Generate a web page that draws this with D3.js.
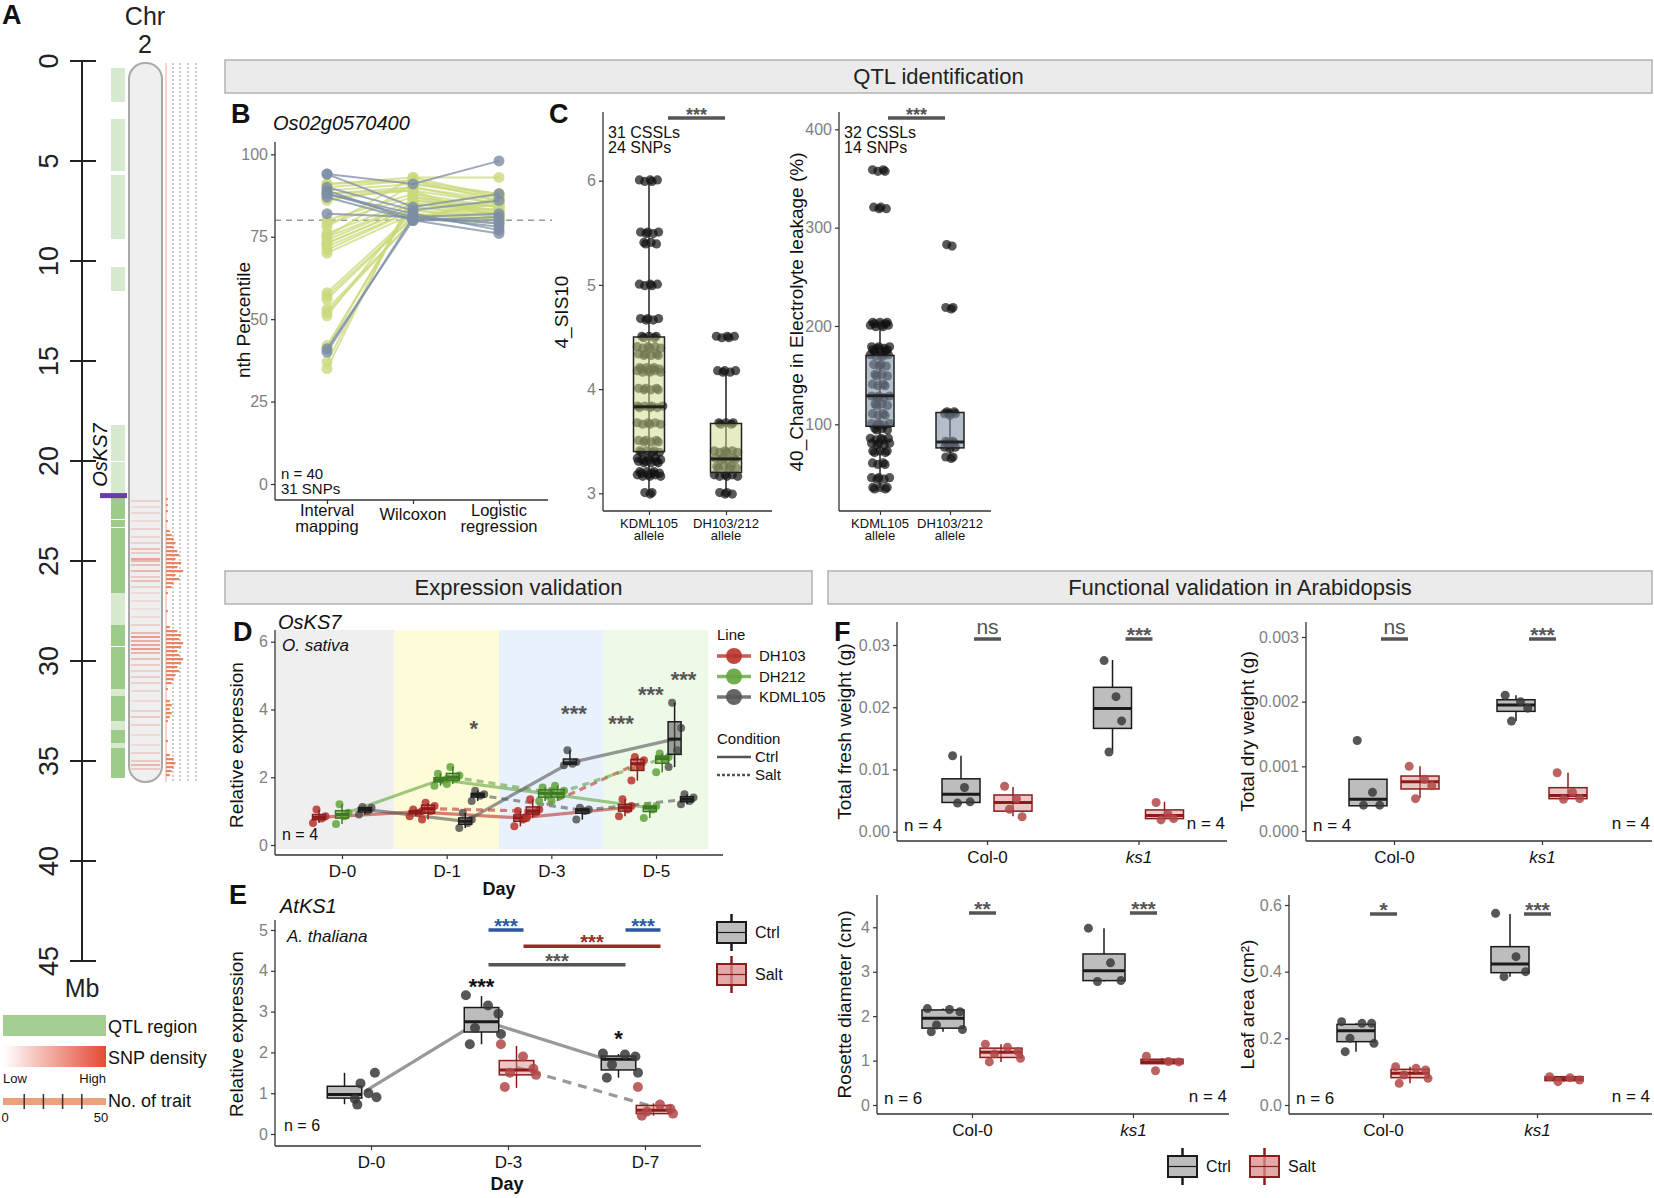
<!DOCTYPE html>
<html>
<head>
<meta charset="utf-8">
<script src="https://cdn.jsdelivr.net/npm/d3@7"></script>
<style>
  body { margin: 0; background: #fff; }
  svg { font-family: "Liberation Sans", Arial, sans-serif; }
  .axis .tick line { stroke: #333; stroke-width: 1.2px; }
  .axis .tick text { fill: #7f7f7f; font-size: 16px; }
  .xaxis .tick text { fill: #111; font-size: 17px; }
  .strip rect { fill: #ebebeb; stroke: #b3b3b3; stroke-width: 1.5px; }
  .strip text { font-size: 22px; fill: #222; text-anchor: middle; }
</style>
</head>
<body>
<svg width="1654" height="1198"></svg>
<script>
// ---------------- data ----------------
// A: chromosome 2
const chrTicks = [0, 5, 10, 15, 20, 25, 30, 35, 40, 45];
const chrLength = 36.05;
const qtlSegments = [
  [0.35, 2.05, 1], [2.9, 5.5, 1], [5.7, 8.9, 1], [10.3, 11.5, 1],
  [18.2, 20.0, 1], [20.05, 21.6, 1],
  [21.75, 22.9, 2], [22.95, 23.3, 2], [23.35, 26.6, 2], [26.6, 28.2, 1],
  [28.2, 29.25, 2], [29.3, 31.4, 2], [31.4, 31.75, 1], [31.75, 33.0, 2],
  [33.0, 33.45, 1], [33.45, 34.1, 2], [34.1, 34.35, 1], [34.35, 35.85, 2]
];
const snpDensity = [
  [22.0, .3], [22.3, .2], [22.6, .25], [23.0, .2], [23.4, .3], [23.8, .25], [24.1, .3],
  [24.4, .5], [24.6, .4], [24.9, .8], [25.0, .6], [25.2, .5], [25.5, .6], [25.8, .4],
  [26.0, .5], [26.3, .3], [26.6, .2], [27.0, .2], [27.4, .15], [27.8, .2], [28.2, .3],
  [28.6, .6], [28.8, .9], [29.0, .7], [29.2, .8], [29.4, .9], [29.6, .6], [29.9, .5],
  [30.2, .4], [30.5, .3], [30.8, .35], [31.1, .3], [31.5, .25], [32.0, .2], [32.5, .3],
  [32.8, .4], [33.2, .3], [33.7, .2], [34.2, .2], [34.6, .3], [35.0, .4], [35.2, .6], [35.4, .4]
];
const traitCounts = [
  [21.9, 1], [22.2, 1], [22.5, 1], [23.0, 1], [23.5, 2], [23.7, 3], [23.9, 4], [24.1, 5],
  [24.3, 4], [24.5, 6], [24.7, 7], [24.9, 5], [25.1, 8], [25.3, 6], [25.5, 9], [25.7, 5],
  [25.9, 7], [26.1, 4], [26.3, 3], [26.6, 1], [27.5, 1], [28.3, 2], [28.5, 6], [28.7, 8],
  [28.9, 7], [29.1, 9], [29.3, 8], [29.5, 6], [29.7, 7], [29.9, 9], [30.1, 8], [30.3, 6],
  [30.5, 7], [30.7, 5], [30.9, 4], [31.1, 3], [31.4, 1], [32.0, 2], [32.2, 3], [32.4, 2],
  [32.6, 3], [32.8, 2], [33.0, 1], [34.0, 1], [34.7, 2], [34.9, 4], [35.1, 5], [35.3, 4],
  [35.5, 3], [35.7, 2]
];
const osks7Mb = 21.73;

// B: percentile ranks of SNPs by method
const methods = ["Interval mapping", "Wilcoxon", "Logistic regression"];
const grayIM = [94, 94, 90, 89, 88, 88, 87, 82, 41, 40];
const grayWX = [91, 84, 83, 80, 82, 81, 80, 81, 80, 81];
const grayLR = [98, 88, 86, 80, 77, 79, 76, 82, 81, 78];
const greenIM = [91, 90, 89, 88, 87, 80, 79, 76, 75, 74, 73, 73, 72, 71, 70, 58, 57, 56, 53, 52, 51, 42, 41, 37, 35, 88, 86, 91, 78, 75];
const greenWX = [93, 92, 91, 90, 89, 88, 87, 86, 85, 85, 84, 84, 83, 83, 82, 82, 81, 81, 80, 80, 84, 85, 86, 87, 88, 89, 90, 92, 93, 91];
const greenLR = [93, 88, 87, 86, 85, 84, 84, 83, 83, 82, 82, 81, 81, 80, 80, 79, 79, 85, 86, 87, 88, 83, 84, 82, 81, 80, 85, 86, 87, 88];

// C: allele effect
const alleles = ["KDML105", "DH103/212"];
const sisLevelsK = [6, 5.5, 5.4, 5, 4.67, 4.5, 4.4, 4.33, 4.2, 4.17, 4, 3.83, 3.67, 3.5, 3.4, 3.33, 3.3, 3.2, 3.17, 3];
const sisCountsK = [5, 5, 4, 5, 5, 5, 6, 6, 6, 6, 6, 7, 6, 6, 6, 6, 6, 6, 6, 3];
const sisLevelsD = [4.5, 4.17, 3.67, 3.4, 3.33, 3.25, 3.17, 3.0];
const sisCountsD = [5, 5, 5, 6, 6, 6, 6, 4];
const sisBoxes = [
  { q1: 3.4, med: 3.83, q3: 4.5, lo: 3.0, hi: 6.0 },
  { q1: 3.2, med: 3.33, q3: 3.67, lo: 3.0, hi: 4.17 }
];
const elLevelsK = [358, 320, 203, 200, 178, 175, 170, 160, 150, 140, 128, 120, 110, 100, 95, 85, 80, 72, 60, 45, 35];
const elCountsK = [4, 4, 5, 5, 5, 5, 5, 4, 4, 4, 5, 4, 4, 5, 4, 5, 5, 5, 4, 5, 5];
const elLevelsD = [282, 218, 112, 110, 82, 80, 76, 66];
const elCountsD = [2, 3, 3, 3, 3, 3, 3, 3];
const elBoxes = [
  { q1: 98, med: 129, q3: 170, lo: 35, hi: 203 },
  { q1: 76, med: 82, q3: 112, lo: 66, hi: 112 }
];

// D: OsKS7 expression
const days = ["D-0", "D-1", "D-3", "D-5"];
const lines = ["DH103", "DH212", "KDML105"];
const conds = ["Ctrl", "Salt"];
const dBoxes = [
  { day: "D-0", line: "DH103", cond: "Ctrl", pts: [0.65, 0.78, 0.85, 1.05] },
  { day: "D-0", line: "DH212", cond: "Ctrl", pts: [0.62, 0.85, 0.95, 1.2] },
  { day: "D-0", line: "KDML105", cond: "Ctrl", pts: [0.9, 1.0, 1.1, 1.12] },
  { day: "D-1", line: "DH103", cond: "Ctrl", pts: [0.85, 0.95, 1.0, 1.05] },
  { day: "D-1", line: "DH103", cond: "Salt", pts: [0.75, 1.0, 1.15, 1.25] },
  { day: "D-1", line: "DH212", cond: "Ctrl", pts: [1.75, 1.9, 1.95, 2.1] },
  { day: "D-1", line: "DH212", cond: "Salt", pts: [1.8, 1.95, 2.05, 2.3] },
  { day: "D-1", line: "KDML105", cond: "Ctrl", pts: [0.5, 0.65, 0.75, 0.95] },
  { day: "D-1", line: "KDML105", cond: "Salt", pts: [1.3, 1.45, 1.5, 1.6] },
  { day: "D-3", line: "DH103", cond: "Ctrl", pts: [0.55, 0.75, 0.85, 1.0] },
  { day: "D-3", line: "DH103", cond: "Salt", pts: [0.8, 0.95, 1.05, 1.35] },
  { day: "D-3", line: "DH212", cond: "Ctrl", pts: [1.3, 1.45, 1.6, 1.7] },
  { day: "D-3", line: "DH212", cond: "Salt", pts: [1.3, 1.45, 1.6, 1.75] },
  { day: "D-3", line: "KDML105", cond: "Ctrl", pts: [2.35, 2.4, 2.45, 2.8] },
  { day: "D-3", line: "KDML105", cond: "Salt", pts: [0.75, 1.0, 1.05, 1.1] },
  { day: "D-5", line: "DH103", cond: "Ctrl", pts: [0.85, 1.05, 1.15, 1.35] },
  { day: "D-5", line: "DH103", cond: "Salt", pts: [1.9, 2.3, 2.5, 2.6] },
  { day: "D-5", line: "DH212", cond: "Ctrl", pts: [0.8, 1.05, 1.15, 1.15] },
  { day: "D-5", line: "DH212", cond: "Salt", pts: [2.15, 2.5, 2.6, 2.7] },
  { day: "D-5", line: "KDML105", cond: "Ctrl", pts: [2.3, 2.8, 3.45, 4.2] },
  { day: "D-5", line: "KDML105", cond: "Salt", pts: [1.2, 1.3, 1.4, 1.5] }
];
const dStars = [["D-1", "KDML105", "Salt", 3.45, "*"], ["D-3", "KDML105", "Ctrl", 3.9, "***"],
  ["D-5", "DH103", "Ctrl", 3.6, "***"], ["D-5", "DH212", "Ctrl", 4.45, "***"], ["D-5", "KDML105", "Ctrl", 4.9, "***"]];

// E: AtKS1 expression
const eDays = ["D-0", "D-3", "D-7"];
const eBoxes = [
  { day: "D-0", cond: "Ctrl", q1: 0.88, med: 0.97, q3: 1.17, lo: 0.73, hi: 1.5, pts: [0.86, 1.0, 1.5, 1.24, 0.9, 0.72] },
  { day: "D-3", cond: "Ctrl", q1: 2.5, med: 2.75, q3: 3.1, lo: 2.2, hi: 3.38, pts: [3.4, 3.15, 2.95, 2.6, 2.45, 2.2] },
  { day: "D-3", cond: "Salt", q1: 1.45, med: 1.57, q3: 1.8, lo: 1.13, hi: 2.16, pts: [2.2, 1.9, 1.6, 1.5, 1.45, 1.15] },
  { day: "D-7", cond: "Ctrl", q1: 1.57, med: 1.83, q3: 1.91, lo: 1.38, hi: 1.96, pts: [1.97, 1.95, 1.9, 1.7, 1.5, 1.38] },
  { day: "D-7", cond: "Salt", q1: 0.5, med: 0.58, q3: 0.7, lo: 0.45, hi: 0.75, pts: [1.15, 0.72, 0.62, 0.55, 0.5, 0.45] }
];
// [from, condFrom, to, condTo, value, colour]
const eBrackets = [["D-3", "Ctrl", "D-3", "Salt", 5.0, "#2b57a0"], ["D-7", "Ctrl", "D-7", "Salt", 5.0, "#2b57a0"],
  ["D-3", "Salt", "D-7", "Salt", 4.6, "#9b2a24"], ["D-3", "Ctrl", "D-7", "Ctrl", 4.15, "#555555"]];
const eStars = [["D-3", "Ctrl", 3.62, "***"], ["D-7", "Ctrl", 2.35, "*"]];

// F: Arabidopsis phenotypes
const genotypes = ["Col-0", "ks1"];
const freshWeight = [
  { g: "Col-0", cond: "Ctrl", q1: 0.0047, med: 0.006, q3: 0.0085, lo: 0.0045, hi: 0.0122, pts: [0.0122, 0.0071, 0.0048, 0.0046] },
  { g: "Col-0", cond: "Salt", q1: 0.0033, med: 0.0047, q3: 0.0059, lo: 0.0025, hi: 0.0072, pts: [0.0073, 0.0053, 0.0024, 0.0036] },
  { g: "ks1", cond: "Ctrl", q1: 0.0166, med: 0.0198, q3: 0.0232, lo: 0.013, hi: 0.0276, pts: [0.0275, 0.0217, 0.0178, 0.0128] },
  { g: "ks1", cond: "Salt", q1: 0.0021, med: 0.0026, q3: 0.0035, lo: 0.002, hi: 0.0048, pts: [0.0047, 0.0028, 0.0021, 0.0019] }
];
const dryWeight = [
  { g: "Col-0", cond: "Ctrl", q1: 0.00039, med: 0.00049, q3: 0.0008, lo: 0.00039, hi: 0.0008, pts: [0.0014, 0.0006, 0.0004, 0.0004] },
  { g: "Col-0", cond: "Salt", q1: 0.00065, med: 0.00076, q3: 0.00085, lo: 0.00051, hi: 0.001, pts: [0.001, 0.0008, 0.0007, 0.0005] },
  { g: "ks1", cond: "Ctrl", q1: 0.00185, med: 0.00195, q3: 0.00203, lo: 0.0017, hi: 0.0021, pts: [0.0021, 0.002, 0.0019, 0.0017] },
  { g: "ks1", cond: "Salt", q1: 0.0005, med: 0.00055, q3: 0.00067, lo: 0.00049, hi: 0.0009, pts: [0.0009, 0.0006, 0.0005, 0.00049] }
];
const rosette = [
  { g: "Col-0", cond: "Ctrl", q1: 1.73, med: 1.95, q3: 2.14, lo: 1.65, hi: 2.17, pts: [2.17, 2.15, 2.1, 1.8, 1.7, 1.65] },
  { g: "Col-0", cond: "Salt", q1: 1.07, med: 1.19, q3: 1.28, lo: 0.97, hi: 1.37, pts: [1.37, 1.3, 1.2, 1.15, 1.05, 0.97] },
  { g: "ks1", cond: "Ctrl", q1: 2.8, med: 3.02, q3: 3.4, lo: 2.78, hi: 3.98, pts: [3.98, 3.2, 2.8, 2.78] },
  { g: "ks1", cond: "Salt", q1: 0.93, med: 0.975, q3: 1.03, lo: 0.92, hi: 1.05, pts: [1.1, 0.98, 0.97, 0.77] }
];
const leafArea = [
  { g: "Col-0", cond: "Ctrl", q1: 0.19, med: 0.223, q3: 0.242, lo: 0.16, hi: 0.245, pts: [0.25, 0.245, 0.245, 0.2, 0.185, 0.16] },
  { g: "Col-0", cond: "Salt", q1: 0.082, med: 0.095, q3: 0.107, lo: 0.065, hi: 0.115, pts: [0.115, 0.11, 0.105, 0.09, 0.08, 0.065] },
  { g: "ks1", cond: "Ctrl", q1: 0.397, med: 0.423, q3: 0.475, lo: 0.385, hi: 0.573, pts: [0.575, 0.445, 0.4, 0.385] },
  { g: "ks1", cond: "Salt", q1: 0.073, med: 0.079, q3: 0.085, lo: 0.07, hi: 0.085, pts: [0.085, 0.082, 0.075, 0.07] }
];
const freshSig = ["ns", "***"], drySig = ["ns", "***"], rosetteSig = ["**", "***"], leafSig = ["*", "***"];

// ---------------- helpers ----------------
const svg = d3.select("svg");
const lineColor = { DH103: "#b8332b", DH212: "#63a33d", KDML105: "#555555" };
const lineStroke = { DH103: "#8b1c1c", DH212: "#3d7a23", KDML105: "#1e1e1e" };
const ctrlStyle = { fill: "#bdbdbd", fo: 1, stroke: "#1a1a1a", pt: "#3a3a3a" };
const saltStyle = { fill: "#d98c8c", fo: 0.5, stroke: "#8b1c1c", pt: "#b04848" };
const jitter = [-12, 5, 13, -5, 15, -9, 2];
const dStarNudge = [-4, 4, -4, 1, 9];

function txt(g, x, y, s, o = {}) {
  const t = g.append("text").attr("x", x).attr("y", y).text(s)
    .attr("font-size", o.size || 16).attr("fill", o.fill || "#111");
  if (o.anchor) t.attr("text-anchor", o.anchor);
  if (o.italic) t.attr("font-style", "italic");
  if (o.bold) t.attr("font-weight", "bold");
  if (o.rotate) t.attr("transform", `rotate(-90,${x},${y})`);
  return t;
}

// two-line label as a single text element
function txt2(g, x, y, l1, l2, size, gap) {
  const t = g.append("text").attr("x", x).attr("y", y).attr("font-size", size)
    .attr("fill", "#111").attr("text-anchor", "middle");
  t.append("tspan").attr("x", x).text(l1);
  t.append("tspan").attr("x", x).attr("dy", gap).text(l2);
}

function strip(x0, x1, y0, y1, label) {
  const g = svg.append("g").attr("class", "strip");
  g.append("rect").attr("x", x0).attr("y", y0).attr("width", x1 - x0).attr("height", y1 - y0);
  g.append("text").attr("x", (x0 + x1) / 2).attr("y", y1 - 9).text(label);
}

function yAxis(x, y, ticks, fmt, top, bottom) {
  const a = svg.append("g").attr("class", "axis").attr("transform", `translate(${x},0)`)
    .call(d3.axisLeft(y).tickValues(ticks).tickFormat(fmt).tickSize(4).tickPadding(3));
  a.select(".domain").remove();
  svg.append("line").attr("x1", x).attr("x2", x).attr("y1", top).attr("y2", bottom)
    .attr("stroke", "#333").attr("stroke-width", 1.3);
}

function xAxis(yPos, x, x0, x1, labelFn) {
  const a = svg.append("g").attr("class", "axis xaxis").attr("transform", `translate(0,${yPos})`)
    .call(d3.axisBottom(x).tickSize(4).tickPadding(6));
  a.select(".domain").remove();
  if (labelFn) a.selectAll(".tick text").each(labelFn);
  svg.append("line").attr("x1", x0).attr("x2", x1).attr("y1", yPos).attr("y2", yPos)
    .attr("stroke", "#333").attr("stroke-width", 1.3);
  return a;
}
const dropLabel = function () { d3.select(this).remove(); };

function drawBox(g, cx, y, s, w, st) {
  g.append("line").attr("x1", cx).attr("x2", cx).attr("y1", y(s.hi)).attr("y2", y(s.lo))
    .attr("stroke", st.stroke).attr("stroke-width", 1.5);
  g.append("rect").attr("x", cx - w / 2).attr("y", y(s.q3)).attr("width", w)
    .attr("height", Math.max(1, y(s.q1) - y(s.q3)))
    .attr("fill", st.fill).attr("fill-opacity", st.fo)
    .attr("stroke", st.stroke).attr("stroke-width", 1.5);
  g.append("line").attr("x1", cx - w / 2).attr("x2", cx + w / 2).attr("y1", y(s.med)).attr("y2", y(s.med))
    .attr("stroke", st.stroke).attr("stroke-width", 3);
}

function sigBar(g, x0, x1, yPos, label, color, size) {
  g.append("line").attr("x1", x0).attr("x2", x1).attr("y1", yPos).attr("y2", yPos)
    .attr("stroke", color).attr("stroke-width", 3.5);
  const star = label.indexOf("*") >= 0;
  txt(g, (x0 + x1) / 2, star ? yPos + 3 : yPos - 5, label,
    { size: size || 21, anchor: "middle", fill: color, bold: star });
}

function legendKey(g, x, y, w, h, st) {
  g.append("line").attr("x1", x + w / 2).attr("x2", x + w / 2).attr("y1", y - 8).attr("y2", y + h + 8)
    .attr("stroke", st.stroke).attr("stroke-width", 2.5);
  g.append("rect").attr("x", x).attr("y", y).attr("width", w).attr("height", h)
    .attr("fill", st.fill).attr("fill-opacity", st.fo === 1 ? 1 : 0.75).attr("stroke", st.stroke).attr("stroke-width", 2);
  g.append("line").attr("x1", x).attr("x2", x + w).attr("y1", y + h / 2).attr("y2", y + h / 2)
    .attr("stroke", st.stroke).attr("stroke-width", 1.2);
}

// ---------------- strips ----------------
strip(225, 1652, 60, 93, "QTL identification");
strip(225, 812, 571, 604, "Expression validation");
strip(828, 1652, 571, 604, "Functional validation in Arabidopsis");

// ---------------- panel A ----------------
const aG = svg.append("g");
const mb = d3.scaleLinear().domain([0, 45]).range([61, 961]);
txt(aG, 2, 24, "A", { size: 27, bold: true });
txt(aG, 145, 25, "Chr", { size: 25, anchor: "middle", fill: "#222" });
txt(aG, 145, 53, "2", { size: 25, anchor: "middle", fill: "#222" });
aG.append("line").attr("x1", 82).attr("x2", 82).attr("y1", mb(0)).attr("y2", mb(45))
  .attr("stroke", "#222").attr("stroke-width", 2);
chrTicks.forEach(t => {
  aG.append("line").attr("x1", 70).attr("x2", 96).attr("y1", mb(t)).attr("y2", mb(t))
    .attr("stroke", "#222").attr("stroke-width", 2);
  txt(aG, 58, mb(t), t, { size: 27, anchor: "middle", rotate: true, fill: "#222" });
});
txt(aG, 82, 997, "Mb", { size: 25, anchor: "middle", fill: "#222" });
qtlSegments.forEach(s => {
  aG.append("rect").attr("x", 111).attr("y", mb(s[0])).attr("width", 14)
    .attr("height", mb(s[1]) - mb(s[0])).attr("fill", s[2] === 2 ? "#9ccb8a" : "#d7ead0");
});
aG.append("rect").attr("x", 129).attr("y", mb(0.1)).attr("width", 33).attr("height", mb(chrLength) - mb(0.1))
  .attr("rx", 16).attr("fill", "#efefef").attr("stroke", "#a9a9a9").attr("stroke-width", 2);
snpDensity.forEach(s => {
  aG.append("line").attr("x1", 131).attr("x2", 160).attr("y1", mb(s[0])).attr("y2", mb(s[0]))
    .attr("stroke", "#e0503f").attr("stroke-opacity", s[1] * 0.75).attr("stroke-width", 1.6);
});
aG.append("line").attr("x1", 166).attr("x2", 166).attr("y1", mb(0.1)).attr("y2", mb(chrLength))
  .attr("stroke", "#f0a990").attr("stroke-width", 1);
const traitX = d3.scaleLinear().domain([0, 50]).range([166, 261]);
traitCounts.forEach(t => {
  aG.append("rect").attr("x", 166).attr("y", mb(t[0]) - 1).attr("width", traitX(t[1]) - 166).attr("height", 2.2)
    .attr("fill", "#e8875a");
});
[173, 180, 188, 196].forEach(x => {
  aG.append("line").attr("x1", x).attr("x2", x).attr("y1", mb(0.1)).attr("y2", mb(chrLength))
    .attr("stroke", "#999").attr("stroke-width", 1).attr("stroke-dasharray", "2,2");
});
aG.append("rect").attr("x", 100).attr("y", mb(osks7Mb) - 2.5).attr("width", 27).attr("height", 5).attr("fill", "#6a3fa5");
txt(aG, 107, 455, "OsKS7", { size: 20, anchor: "middle", rotate: true, italic: true });
// legend
const grad = svg.append("defs").append("linearGradient").attr("id", "snpgrad");
grad.append("stop").attr("offset", "0%").attr("stop-color", "#fff");
grad.append("stop").attr("offset", "100%").attr("stop-color", "#e34a33");
aG.append("rect").attr("x", 3).attr("y", 1015).attr("width", 103).attr("height", 21).attr("fill", "#a5cf92");
txt(aG, 108, 1033, "QTL region", { size: 18 });
aG.append("rect").attr("x", 3).attr("y", 1046).attr("width", 103).attr("height", 21).attr("fill", "url(#snpgrad)");
txt(aG, 108, 1064, "SNP density", { size: 18 });
txt(aG, 3, 1083, "Low", { size: 13 });
txt(aG, 106, 1083, "High", { size: 13, anchor: "end" });
const legTrait = d3.scaleLinear().domain([0, 50]).range([5, 101]);
aG.append("rect").attr("x", 3).attr("y", 1098).attr("width", 103).attr("height", 7).attr("fill", "#eca17c");
[10, 20, 30, 40].forEach(v => aG.append("line").attr("x1", legTrait(v)).attr("x2", legTrait(v))
  .attr("y1", 1094).attr("y2", 1109).attr("stroke", "#333").attr("stroke-width", 1.5));
txt(aG, 108, 1107, "No. of trait", { size: 18 });
txt(aG, legTrait(0), 1122, "0", { size: 13, anchor: "middle" });
txt(aG, legTrait(50), 1122, "50", { size: 13, anchor: "middle" });

// ---------------- panel B ----------------
const bG = svg.append("g");
const bY = d3.scaleLinear().domain([0, 100]).range([484, 154.3]);
const bX = d3.scalePoint().domain(methods).range([327, 499]);
txt(bG, 231, 123, "B", { size: 27, bold: true });
txt(bG, 273, 130, "Os02g0570400", { size: 20, italic: true });
yAxis(275, bY, [0, 25, 50, 75, 100], d3.format("d"), 142, 500);
xAxis(500, bX, 275, 548, dropLabel);
txt2(bG, bX(methods[0]), 516, "Interval", "mapping", 16.5, 16);
txt(bG, bX(methods[1]), 520, "Wilcoxon", { size: 16.5, anchor: "middle" });
txt2(bG, bX(methods[2]), 516, "Logistic", "regression", 16.5, 16);
txt(bG, 250, 320, "nth Percentile", { size: 19, anchor: "middle", rotate: true });
bG.append("line").attr("x1", 275).attr("x2", 552).attr("y1", bY(80)).attr("y2", bY(80))
  .attr("stroke", "#999").attr("stroke-width", 1.5).attr("stroke-dasharray", "6,5");
function bSeries(im, wx, lr, color) {
  im.forEach((v, i) => {
    const vals = [v, wx[i], lr[i]];
    bG.append("path").attr("d", d3.line()(vals.map((d, k) => [bX(methods[k]), bY(d)])))
      .attr("fill", "none").attr("stroke", color).attr("stroke-width", 2).attr("stroke-opacity", 0.75);
    vals.forEach((d, k) => bG.append("circle").attr("cx", bX(methods[k])).attr("cy", bY(d)).attr("r", 5.5)
      .attr("fill", color).attr("fill-opacity", 0.8));
  });
}
bSeries(greenIM, greenWX, greenLR, "#cbd97c");
bSeries(grayIM, grayWX, grayLR, "#7d8da6");
txt(bG, 281, 479, "n = 40", { size: 15 });
txt(bG, 281, 494, "31 SNPs", { size: 15 });

// ---------------- panel C ----------------
const cG = svg.append("g");
txt(cG, 549, 123, "C", { size: 27, bold: true });
function cPanel(axisX, xEnd, xr, y, ticks, levels, counts, boxes, boxFill, boxFo, boxW, yLabel, yLabelX, note, sigX) {
  const x = d3.scalePoint().domain(alleles).range(xr);
  yAxis(axisX, y, ticks, d3.format("d"), 112, 511);
  xAxis(511, x, axisX, xEnd, dropLabel);
  alleles.forEach(a => txt2(cG, x(a), 528, a, "allele", 13, 12));
  levels.forEach((lv, li) => {
    lv.forEach((v, i) => {
      const n = counts[li][i];
      for (let j = 0; j < n; j++) {
        const dx = (j - (n - 1) / 2) * 4.2 + ((i + j) % 3 - 1) * 1.2;
        cG.append("circle").attr("cx", x(alleles[li]) + dx).attr("cy", y(v) + ((j % 2) - 0.5) * 1.5)
          .attr("r", 4.6).attr("fill", "#111").attr("fill-opacity", 0.7);
      }
    });
  });
  boxes.forEach((b, i) => drawBox(cG, x(alleles[i]), y, b, boxW, { fill: boxFill, fo: boxFo, stroke: "#222" }));
  txt(cG, yLabelX, 312, yLabel, { size: 19, anchor: "middle", rotate: true });
  txt(cG, axisX + 5, 138, note[0], { size: 16 });
  txt(cG, axisX + 5, 153, note[1], { size: 16 });
  sigBar(cG, sigX[0], sigX[1], 118, "***", "#555", 18);
}
cPanel(603, 772, [649, 726], d3.scaleLinear().domain([3, 6]).range([493.3, 180.7]), [3, 4, 5, 6],
  [sisLevelsK, sisLevelsD], [sisCountsK, sisCountsD], sisBoxes, "#d2da8c", 0.5, 31, "4_SIS10", 568,
  ["31 CSSLs", "24 SNPs"], [668, 725]);
cPanel(839, 991, [880, 950], d3.scaleLinear().domain([100, 400]).range([424.3, 129.3]), [100, 200, 300, 400],
  [elLevelsK, elLevelsD], [elCountsK, elCountsD], elBoxes, "#7d8fa6", 0.58, 28, "40_Change in Electrolyte leakage (%)", 803,
  ["32 CSSLs", "14 SNPs"], [888, 945]);

// ---------------- panel D ----------------
const dG = svg.append("g");
const dX = d3.scalePoint().domain(days).range([342, 656]);
const dStep = dX.step();
const dY = d3.scaleLinear().domain([0, 6]).range([845, 641.7]);
const bandColors = ["#efefef", "#fefbd9", "#e8f1fc", "#eef9e7"];
days.forEach((d, i) => {
  const x0 = i === 0 ? 276 : dX(d) - dStep / 2;
  dG.append("rect").attr("x", x0).attr("y", 630).attr("width", dX(d) + dStep / 2 - x0).attr("height", 219)
    .attr("fill", bandColors[i]);
});
yAxis(275, dY, [0, 2, 4, 6], d3.format("d"), 630, 855);
xAxis(855, dX, 275, 723);
txt(dG, 499, 895, "Day", { size: 18, anchor: "middle", bold: true });
txt(dG, 243, 745, "Relative expression", { size: 19, anchor: "middle", rotate: true });
txt(dG, 233, 641, "D", { size: 27, bold: true });
txt(dG, 278, 629, "OsKS7", { size: 20, italic: true });
txt(dG, 282, 651, "O. sativa", { size: 17, italic: true });
txt(dG, 282, 840, "n = 4", { size: 16 });
function dPos(day, line, cond) {
  const li = lines.indexOf(line);
  if (day === "D-0") return dX(day) + (li - 1) * 23;
  return dX(day) + (li * 2 + conds.indexOf(cond) - 2.5) * 12.4;
}
dBoxes.forEach(b => {
  const s = b.pts.slice().sort(d3.ascending);
  b.q1 = d3.quantile(s, 0.25); b.med = d3.quantile(s, 0.5); b.q3 = d3.quantile(s, 0.75);
  b.lo = s[0]; b.hi = s[s.length - 1];
});
lines.forEach(l => conds.forEach(c => {
  const pts = days.map(d => dBoxes.find(b => b.day === d && b.line === l && (b.cond === c || (d === "D-0" && c === "Ctrl"))))
    .filter(Boolean);
  dG.append("path").attr("d", d3.line()(pts.map(b => [dPos(b.day, l, b.cond), dY(b.med)])))
    .attr("fill", "none").attr("stroke", lineColor[l]).attr("stroke-opacity", 0.6).attr("stroke-width", 3.2)
    .attr("stroke-dasharray", c === "Salt" ? "7,5" : null);
}));
dBoxes.forEach(b => {
  const cx = dPos(b.day, b.line, b.cond);
  b.pts.forEach((v, i) => dG.append("circle").attr("cx", cx + jitter[i] * 0.5).attr("cy", dY(v)).attr("r", 4)
    .attr("fill", lineColor[b.line]).attr("fill-opacity", 0.85));
  drawBox(dG, cx, dY, b, 13, { fill: lineColor[b.line], fo: 0.55, stroke: lineStroke[b.line] });
});
dStars.forEach((s, i) => txt(dG, dPos(s[0], s[1], s[2]) + dStarNudge[i], dY(s[3]) + 8, s[4],
  { size: 22, anchor: "middle", fill: "#555", bold: true }));
// D legend
const dl = svg.append("g");
txt(dl, 717, 640, "Line", { size: 15 });
lines.forEach((l, i) => {
  const yy = 656 + i * 20.5;
  dl.append("line").attr("x1", 717).attr("x2", 751).attr("y1", yy).attr("y2", yy).attr("stroke", lineColor[l])
    .attr("stroke-width", 3.5).attr("stroke-opacity", 0.8);
  dl.append("circle").attr("cx", 734).attr("cy", yy).attr("r", 8).attr("fill", lineColor[l]).attr("fill-opacity", 0.9);
  txt(dl, 759, yy + 5, l, { size: 15 });
});
txt(dl, 717, 744, "Condition", { size: 15 });
conds.forEach((c, i) => {
  const yy = 757 + i * 18;
  dl.append("line").attr("x1", 717).attr("x2", 751).attr("y1", yy).attr("y2", yy).attr("stroke", "#555")
    .attr("stroke-width", 2.5).attr("stroke-dasharray", c === "Salt" ? "3,2" : null);
  txt(dl, 755, yy + 5, c, { size: 15 });
});

// ---------------- panel E ----------------
const eG = svg.append("g");
const eX = d3.scalePoint().domain(eDays).range([371, 645]);
const eY = d3.scaleLinear().domain([0, 5]).range([1134, 930]);
const ePos = (day, cond) => eX(day) + (cond === "Ctrl" ? -26.5 : 8.5);
// day-0 has no salt box, its points sit right of the box
const ePtShift = day => (day === "D-0" ? 20 : 0);
yAxis(275, eY, [0, 1, 2, 3, 4, 5], d3.format("d"), 920, 1146);
xAxis(1146, eX, 275, 701);
txt(eG, 507, 1190, "Day", { size: 18, anchor: "middle", bold: true });
txt(eG, 243, 1034, "Relative expression", { size: 19, anchor: "middle", rotate: true });
txt(eG, 229, 904, "E", { size: 27, bold: true });
txt(eG, 280, 913, "AtKS1", { size: 20, italic: true });
txt(eG, 287, 942, "A. thaliana", { size: 17, italic: true });
txt(eG, 284, 1131, "n = 6", { size: 16 });
const eLine = c => eBoxes.filter(b => b.cond === c).map(b => [ePos(b.day, c) + ePtShift(b.day), eY(d3.mean(b.pts))]);
eG.append("path").attr("d", d3.line()(eLine("Ctrl"))).attr("fill", "none").attr("stroke", "#999").attr("stroke-width", 3.2);
eG.append("path").attr("d", d3.line()(eLine("Salt"))).attr("fill", "none").attr("stroke", "#999").attr("stroke-width", 3.2)
  .attr("stroke-dasharray", "9,7");
eBoxes.forEach(b => {
  const st = b.cond === "Ctrl" ? ctrlStyle : saltStyle;
  const cx = ePos(b.day, b.cond);
  drawBox(eG, cx, eY, b, 34.5, st);
  b.pts.forEach((v, i) => eG.append("circle").attr("cx", cx + ePtShift(b.day) + jitter[i] * (b.day === "D-0" ? 0.8 : 1.3))
    .attr("cy", eY(v)).attr("r", 5).attr("fill", st.pt).attr("fill-opacity", 0.85));
});
eBrackets.forEach(b => sigBar(eG, ePos(b[0], b[1]) + 7, ePos(b[2], b[3]) + 7, eY(b[4]), "***", b[5], 20));
eStars.forEach(s => txt(eG, ePos(s[0], s[1]), eY(s[2]) + 8, s[3], { size: 22, anchor: "middle", bold: true }));
const el = svg.append("g");
legendKey(el, 717, 922, 29, 21, ctrlStyle);
txt(el, 755, 938, "Ctrl", { size: 16 });
legendKey(el, 717, 964, 29, 21, saltStyle);
txt(el, 755, 980, "Salt", { size: 16 });

// ---------------- panel F ----------------
const fG = svg.append("g");
txt(fG, 834, 641, "F", { size: 27, bold: true });
function fPanel(data, sig, o) {
  const x = d3.scalePoint().domain(genotypes).range(o.xr);
  const y = d3.scaleLinear().domain(o.dom).range(o.yr);
  yAxis(o.ax, y, o.ticks, d3.format(o.fmt), o.top, o.bottom);
  xAxis(o.bottom, x, o.ax, o.xEnd, function (d) { if (d === "ks1") d3.select(this).attr("font-style", "italic"); });
  txt(fG, o.ylx, (o.top + o.bottom) / 2, o.ylab, { size: 19, anchor: "middle", rotate: true });
  data.forEach(b => {
    const st = b.cond === "Ctrl" ? ctrlStyle : saltStyle;
    const cx = x(b.g) + (b.cond === "Ctrl" ? -o.off : o.off);
    drawBox(fG, cx, y, b, o.bw, st);
    b.pts.forEach((v, i) => fG.append("circle").attr("cx", cx + jitter[i] * o.jit).attr("cy", y(v)).attr("r", 4.5)
      .attr("fill", st.pt).attr("fill-opacity", 0.85));
  });
  genotypes.forEach((g, i) => sigBar(fG, x(g) - 13 + o.sigDx, x(g) + 14 + o.sigDx, o.sigY, sig[i], "#555", 21));
  txt(fG, o.ax + 7, o.bottom - 10, o.nL, { size: 17 });
  txt(fG, o.xEnd - 2, o.bottom - 12, "n = 4", { size: 17, anchor: "end" });
}
fPanel(freshWeight, freshSig, { xr: [987, 1138.5], dom: [0, 0.03], yr: [831.7, 645], ax: 897, top: 622, bottom: 841,
  xEnd: 1227, ticks: [0, 0.01, 0.02, 0.03], fmt: ".2f", ylx: 851, ylab: "Total fresh weight (g)", off: 26, bw: 38,
  jit: 0.7, sigY: 639, sigDx: 0, nL: "n = 4" });
fPanel(dryWeight, drySig, { xr: [1394, 1542], dom: [0, 0.003], yr: [831, 637], ax: 1306, top: 622, bottom: 841,
  xEnd: 1652, ticks: [0, 0.001, 0.002, 0.003], fmt: ".3f", ylx: 1254, ylab: "Total dry weight (g)", off: 26, bw: 38,
  jit: 0.9, sigY: 639, sigDx: 0, nL: "n = 4" });
fPanel(rosette, rosetteSig, { xr: [972, 1133], dom: [0, 4], yr: [1105, 927.3], ax: 877, top: 895, bottom: 1114,
  xEnd: 1229, ticks: [0, 1, 2, 3, 4], fmt: "d", ylx: 851, ylab: "Rosette diameter (cm)", off: 29, bw: 42,
  jit: 1.3, sigY: 913, sigDx: 10, nL: "n = 6" });
fPanel(leafArea, leafSig, { xr: [1383, 1537], dom: [0, 0.6], yr: [1105, 905], ax: 1289, top: 895, bottom: 1114,
  xEnd: 1652, ticks: [0, 0.2, 0.4, 0.6], fmt: ".1f", ylx: 1254, ylab: "Leaf area (cm²)", off: 27, bw: 38,
  jit: 1.2, sigY: 914, sigDx: 0, nL: "n = 6" });
const fl = svg.append("g");
legendKey(fl, 1168, 1156, 29, 21, ctrlStyle);
txt(fl, 1206, 1172, "Ctrl", { size: 16 });
legendKey(fl, 1250, 1156, 29, 21, saltStyle);
txt(fl, 1288, 1172, "Salt", { size: 16 });
</script>
</body>
</html>
